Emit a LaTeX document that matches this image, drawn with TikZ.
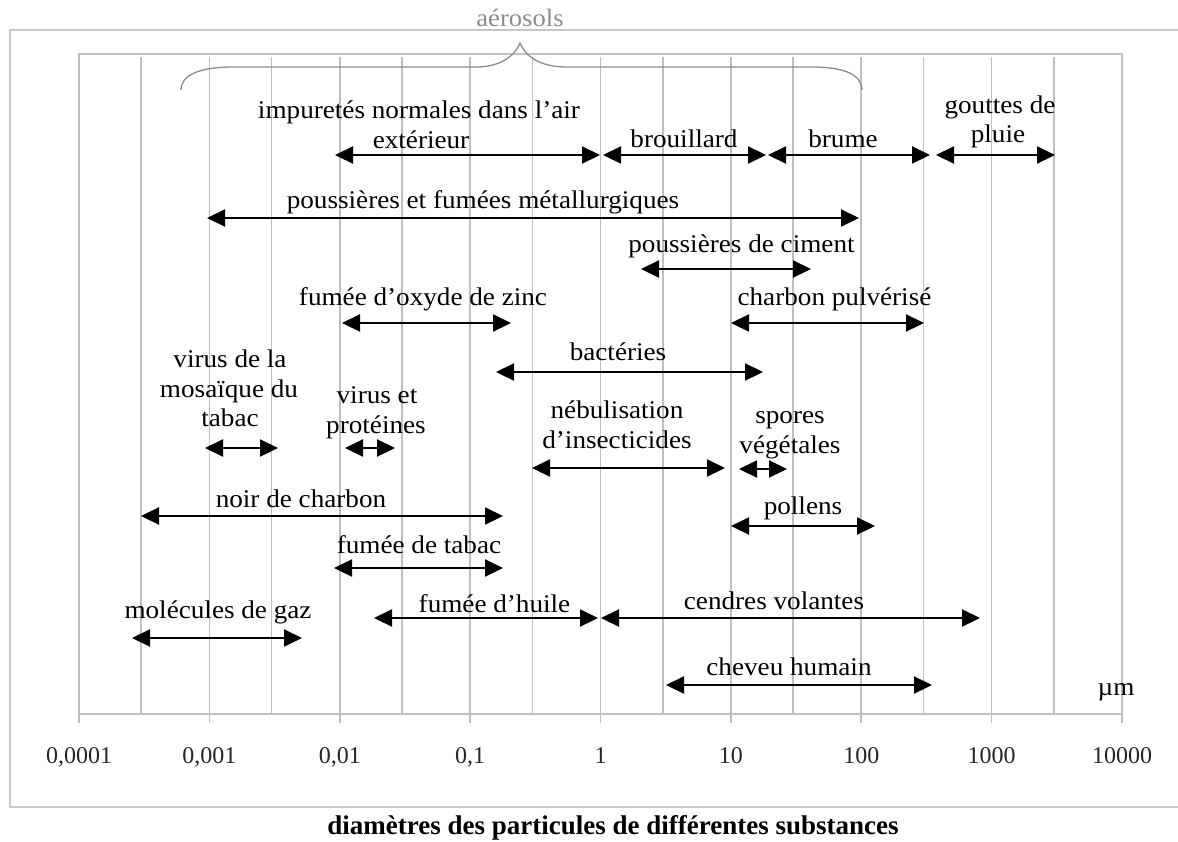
\documentclass[tikz,border=0pt]{standalone}
\usepackage{fontspec}
\setmainfont{Liberation Serif}[FakeStretch=1.065]
\newfontfamily\plainserif{Liberation Serif}
\usetikzlibrary{arrows.meta}
\begin{document}
\begin{tikzpicture}[x=1pt,y=-1pt,
  gridline/.style={draw=black!25, line width=1.6pt},
  outerframe/.style={draw=black!22, line width=1.8pt},
  bracestyle/.style={draw=black!45, line width=1.3pt},
  rng/.style={draw=black, line width=2.2pt,
    {Triangle[length=18pt,width=17pt]}-{Triangle[length=18pt,width=17pt]}},
  lbl/.style={font=\fontsize{25.5}{28}\selectfont, inner sep=0pt, anchor=base, text=black},
  ticklbl/.style={font=\plainserif\fontsize{24}{28}\selectfont, inner sep=0pt, anchor=base, text=black!85},
  captionlbl/.style={font=\plainserif\fontsize{27}{30}\selectfont\bfseries, inner sep=0pt, anchor=base},
  aerolbl/.style={font=\fontsize{25}{28}\selectfont, inner sep=0pt, anchor=base, text=black!45}
]
\useasboundingbox (0,0) rectangle (1178,841);
\fill[white] (0,0) rectangle (1178,841);

% outer frame (runs off the right edge)
\draw[outerframe] (1200,30) -- (10,30) -- (10,807) -- (1200,807);

% grid lines (decades and 3x)
\foreach \x in {141.2,209.4,271.6,339.75,402,470.1,532.3,600.5,662.7,730.9,793.1,861.25,923.4,991.6,1053.8}
  \draw[gridline] (\x,57) -- (\x,714);
% inner frame and axis
\draw[gridline] (79,714) -- (79,54) -- (1122,54) -- (1122,714) -- cycle;
\foreach \x in {79,209.4,339.75,470.1,600.5,730.9,861.25,991.6,1122}
  \draw[gridline] (\x,714) -- (\x,723);

% tick labels
\node[ticklbl] (t0) at (79,763) {0,0001};
\node[ticklbl] (t1) at (209.4,763) {0,001};
\node[ticklbl] (t2) at (339.75,763) {0,01};
\node[ticklbl] (t3) at (470.1,763) {0,1};
\node[ticklbl] (t4) at (600.5,763) {1};
\node[ticklbl] (t5) at (730.9,763) {10};
\node[ticklbl] (t6) at (861.25,763) {100};
\node[ticklbl] (t7) at (991.6,763) {1000};
\node[ticklbl] (t8) at (1122,763) {10000};
\node[lbl] (um) at (1116,695) {µm};

% caption
\node[captionlbl] (cap) at (613,834) {diamètres des particules de différentes substances};

% aerosols brace
\node[aerolbl] (aero) at (520,26) {aérosols};
\draw[bracestyle] (181,90) .. controls (181,75) and (200,67) .. (232,67)
  -- (476,67) .. controls (500,67) and (515,56) .. (520,43)
  .. controls (525,56) and (540,67) .. (566,67)
  -- (812,67) .. controls (845,67) and (862,75) .. (862,90);

% ranges
\coordinate (impL) at (335,155); \coordinate (impR) at (600,155);
\draw[rng] (impL) -- (impR);
\node[lbl] (imp1) at (419,118) {impuretés normales dans l’air};
\node[lbl] (imp2) at (421,148) {extérieur};

\coordinate (broL) at (603,155); \coordinate (broR) at (766,155);
\draw[rng] (broL) -- (broR);
\node[lbl] (bro) at (684,147) {brouillard};

\coordinate (bruL) at (768,155); \coordinate (bruR) at (930,155);
\draw[rng] (bruL) -- (bruR);
\node[lbl] (bru) at (843,147) {brume};

\coordinate (gouL) at (936,155); \coordinate (gouR) at (1055,155);
\draw[rng] (gouL) -- (gouR);
\node[lbl] (gou1) at (1000,113) {gouttes de};
\node[lbl] (gou2) at (998,142) {pluie};

\coordinate (metL) at (207,218); \coordinate (metR) at (859,218);
\draw[rng] (metL) -- (metR);
\node[lbl] (met) at (483,208) {poussières et fumées métallurgiques};

\coordinate (cimL) at (641,269); \coordinate (cimR) at (811,269);
\draw[rng] (cimL) -- (cimR);
\node[lbl] (cim) at (741.5,252) {poussières de ciment};

\coordinate (zinL) at (342,323); \coordinate (zinR) at (511,323);
\draw[rng] (zinL) -- (zinR);
\node[lbl] (zin) at (423,305) {fumée d’oxyde de zinc};

\coordinate (cpuL) at (731,323); \coordinate (cpuR) at (924,323);
\draw[rng] (cpuL) -- (cpuR);
\node[lbl] (cpu) at (834.5,305) {charbon pulvérisé};

\coordinate (bacL) at (496,372); \coordinate (bacR) at (763,372);
\draw[rng] (bacL) -- (bacR);
\node[lbl] (bac) at (618,360) {bactéries};

\coordinate (mosL) at (205,448); \coordinate (mosR) at (278,448);
\draw[rng] (mosL) -- (mosR);
\node[lbl] (mos1) at (230,367) {virus de la};
\node[lbl] (mos2) at (229,397) {mosaïque du};
\node[lbl] (mos3) at (230,426) {tabac};

\coordinate (proL) at (345,448); \coordinate (proR) at (395,448);
\draw[rng] (proL) -- (proR);
\node[lbl] (pro1) at (377,403) {virus et};
\node[lbl] (pro2) at (376,433) {protéines};

\coordinate (nebL) at (532,468); \coordinate (nebR) at (725,468);
\draw[rng] (nebL) -- (nebR);
\node[lbl] (neb1) at (617,418) {nébulisation};
\node[lbl] (neb2) at (617,448) {d’insecticides};

\coordinate (spoL) at (739,469); \coordinate (spoR) at (787,469);
\draw[rng] (spoL) -- (spoR);
\node[lbl] (spo1) at (790,423) {spores};
\node[lbl] (spo2) at (790,453) {végétales};

\coordinate (noiL) at (141,516); \coordinate (noiR) at (503,516);
\draw[rng] (noiL) -- (noiR);
\node[lbl] (noi) at (301,507) {noir de charbon};

\coordinate (polL) at (731,526); \coordinate (polR) at (875,526);
\draw[rng] (polL) -- (polR);
\node[lbl] (pol) at (803,514) {pollens};

\coordinate (ftaL) at (334,568); \coordinate (ftaR) at (503,568);
\draw[rng] (ftaL) -- (ftaR);
\node[lbl] (fta) at (419,553) {fumée de tabac};

\coordinate (fhuL) at (374,618); \coordinate (fhuR) at (598,618);
\draw[rng] (fhuL) -- (fhuR);
\node[lbl] (fhu) at (494.5,612) {fumée d’huile};

\coordinate (cenL) at (601,618); \coordinate (cenR) at (980,618);
\draw[rng] (cenL) -- (cenR);
\node[lbl] (cen) at (774,609) {cendres volantes};

\coordinate (molL) at (132,638); \coordinate (molR) at (302,638);
\draw[rng] (molL) -- (molR);
\node[lbl] (mol) at (218,618) {molécules de gaz};

\coordinate (cheL) at (666,685); \coordinate (cheR) at (932,685);
\draw[rng] (cheL) -- (cheR);
\node[lbl] (che) at (789,675) {cheveu humain};
\end{tikzpicture}
\end{document}
